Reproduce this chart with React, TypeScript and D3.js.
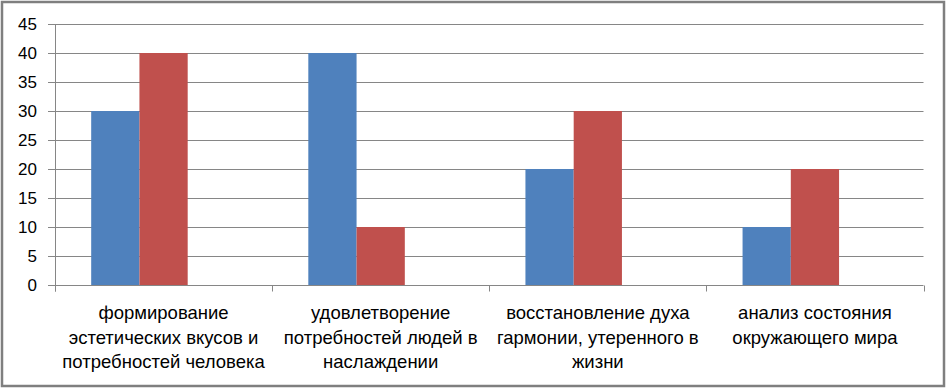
import React, { useEffect, useRef } from 'react'
import * as d3 from 'd3'

const categories = [
  ['формирование', 'эстетических вкусов и', 'потребностей человека'],
  ['удовлетворение', 'потребностей людей в', 'наслаждении'],
  ['восстановление духа', 'гармонии, утеренного в', 'жизни'],
  ['анализ состояния', 'окружающего мира'],
]
const series1 = [30, 40, 20, 10]
const series2 = [40, 10, 30, 20]
const yTicks = [0, 5, 10, 15, 20, 25, 30, 35, 40, 45]

const width = 947
const height = 389
const margin = { top: 24, right: 23.5, bottom: 104, left: 55 }
const font = '"Liberation Sans", Arial, sans-serif'

const Chart = () => {
  const ref = useRef(null)

  useEffect(() => {
    const svg = d3.select(ref.current)
    svg.selectAll('*').remove()

    const x = d3.scaleBand()
      .domain(categories.map((d, i) => String(i)))
      .range([margin.left, width - margin.right])
      .paddingInner(0)
      .paddingOuter(0)

    const y = d3.scaleLinear()
      .domain([0, 45])
      .range([height - margin.bottom, margin.top])

    // third slot is an empty series, as in the original chart
    const inner = d3.scaleBand()
      .domain(['a', 'b', 'c'])
      .range([0, x.bandwidth()])
      .paddingInner(0)
      .paddingOuter(0.75)

    // chart frame
    svg.append('rect')
      .attr('x', 2).attr('y', 2)
      .attr('width', width - 5).attr('height', height - 5)
      .attr('fill', '#fff')
      .attr('stroke', '#7f7f7f')
      .attr('stroke-width', 2.5)

    // gridlines
    svg.append('g')
      .selectAll('line')
      .data(yTicks)
      .join('line')
      .attr('x1', margin.left - 7)
      .attr('x2', width - margin.right)
      .attr('y1', d => Math.round(y(d)) + 0.5)
      .attr('y2', d => Math.round(y(d)) + 0.5)
      .attr('stroke', '#868686')
      .attr('stroke-width', 1)

    const rows = categories.map((c, i) => ({ i, a: series1[i], b: series2[i] }))

    const groups = svg.append('g')
      .selectAll('g')
      .data(rows)
      .join('g')
      .attr('transform', d => `translate(${x(String(d.i))},0)`)

    groups.append('rect')
      .attr('x', inner('a'))
      .attr('y', d => y(d.a))
      .attr('width', inner.bandwidth())
      .attr('height', d => y(0) - y(d.a))
      .attr('fill', '#4f81bd')

    groups.append('rect')
      .attr('x', inner('b'))
      .attr('y', d => y(d.b))
      .attr('width', inner.bandwidth())
      .attr('height', d => y(0) - y(d.b))
      .attr('fill', '#c0504d')

    // y axis line
    const y0 = Math.round(y(0)) + 0.5
    svg.append('line')
      .attr('x1', margin.left + 0.5).attr('x2', margin.left + 0.5)
      .attr('y1', margin.top).attr('y2', y0 + 6)
      .attr('stroke', '#868686')

    // x tick marks
    const xTickPos = categories.map((c, i) => x(String(i))).concat([width - margin.right])
    svg.append('g')
      .selectAll('line')
      .data(xTickPos)
      .join('line')
      .attr('x1', d => Math.round(d) + 0.5)
      .attr('x2', d => Math.round(d) + 0.5)
      .attr('y1', y0)
      .attr('y2', y0 + 6)
      .attr('stroke', '#868686')

    // y labels
    svg.append('g')
      .selectAll('text')
      .data(yTicks)
      .join('text')
      .attr('x', 37)
      .attr('y', d => y(d))
      .attr('dy', '0.36em')
      .attr('text-anchor', 'end')
      .attr('font-family', font)
      .attr('font-size', 17)
      .attr('fill', '#000')
      .text(d => d)

    // category labels
    const labels = svg.append('g')
      .selectAll('text')
      .data(categories)
      .join('text')
      .attr('text-anchor', 'middle')
      .attr('font-family', font)
      .attr('font-size', 18.5)
      .attr('fill', '#000')

    labels.selectAll('tspan')
      .data((d, i) => d.map(line => ({ line, i })))
      .join('tspan')
      .attr('x', d => x(String(d.i)) + x.bandwidth() / 2)
      .attr('y', (d, j) => 319 + j * 24.5)
      .text(d => d.line)
  }, [])

  return (
    <svg width={width} height={height} ref={ref}
      style={{ position: 'absolute', left: 0, top: 0 }} />
  )
}

export default function App() {
  return <Chart />
}
